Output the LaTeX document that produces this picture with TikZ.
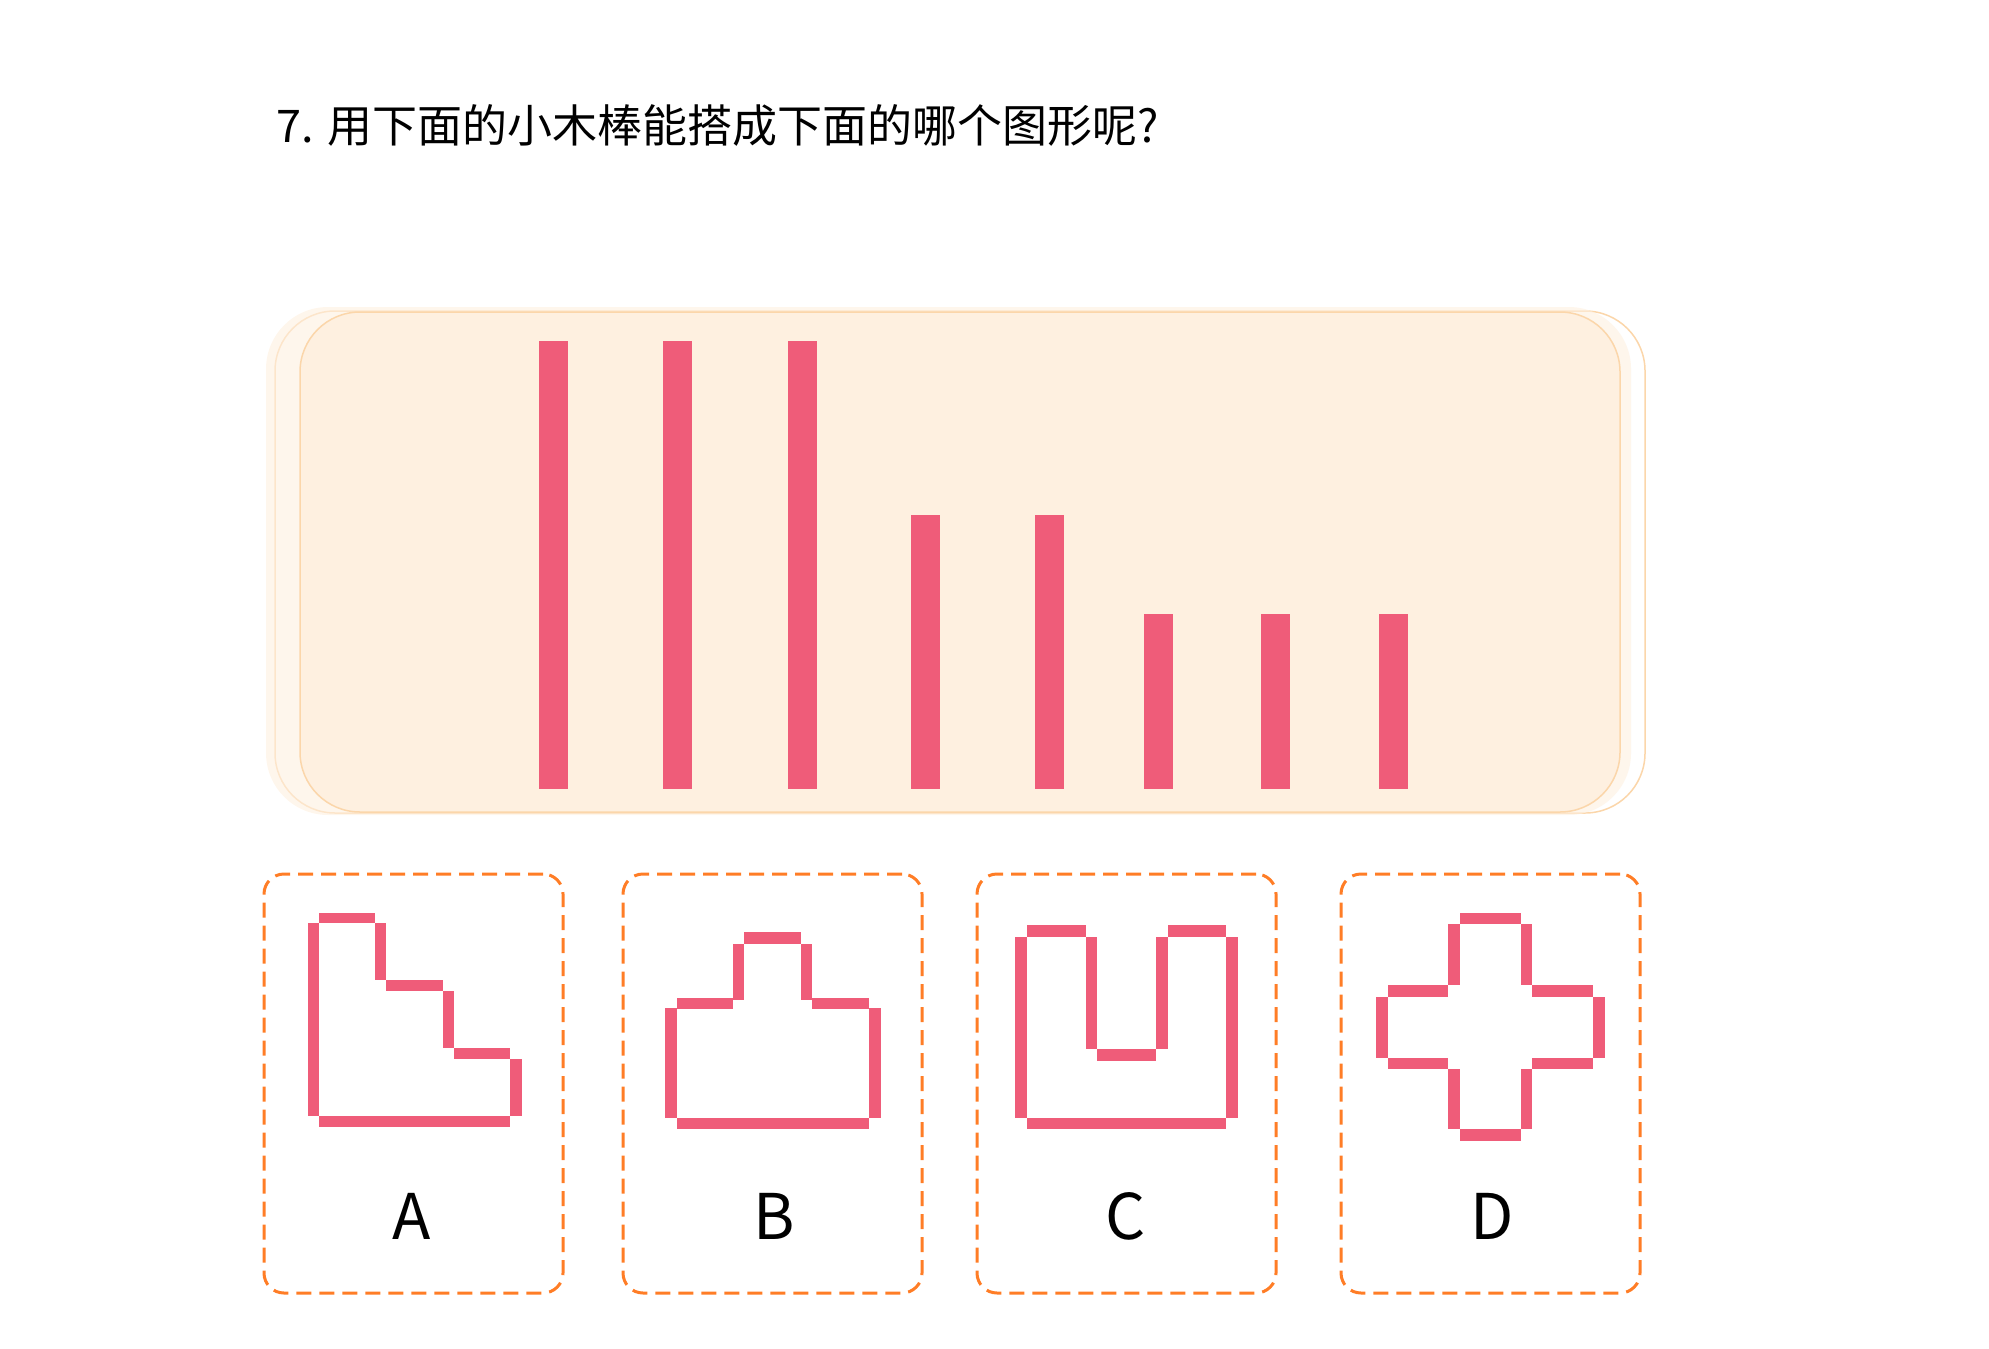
\documentclass[tikz,border=0pt]{standalone}
\usepackage{fontspec}
\newfontfamily\cjk{Noto Sans CJK SC}
\usetikzlibrary{positioning}
\definecolor{stickred}{RGB}{239,92,121}
\definecolor{dashorange}{RGB}{255,125,38}
\definecolor{panelfill}{RGB}{254,240,224}
\definecolor{paneledge}{RGB}{251,214,170}
\tikzset{
  stick/.style  ={fill=stickred, draw=none},
  card/.style   ={rectangle, draw=dashorange, line width=1.5pt,
                  dash pattern=on 7.5pt off 4pt, rounded corners=10pt,
                  minimum width=149.5pt, minimum height=209.5pt, inner sep=0pt},
  optlbl/.style ={font=\cjk\fontsize{31.5pt}{36pt}\selectfont, anchor=base, inner sep=0pt},
  qtitle/.style ={font=\cjk\fontsize{22.5pt}{27pt}\selectfont, anchor=base west, inner sep=0pt},
  panel/.style  ={draw=paneledge, line width=0.75pt, rounded corners=30pt},
}

\begin{document}
\begin{tikzpicture}[x=0.5pt, y=-0.5pt]
\useasboundingbox (0,0) rectangle (1989,1348);

\node[qtitle] (ttl) at (276,143) {7. 用下面的小木棒能搭成下面的哪个图形呢?};

% stacked panel
\draw[panel, fill=white] (275,311) rectangle (1645,813);
\fill[panelfill, opacity=0.6, rounded corners=31pt] (266,307) rectangle (1631,815);
\draw[panel, fill=panelfill] (300,312) rectangle (1620,812);

% sticks
\foreach \x/\top in {539/341, 663/341, 788/341, 911/515, 1035/515,
                     1144/614, 1261/614, 1379/614}
  \fill[stick] (\x,\top) rectangle (\x+29,789);

% option cards
\node[card] (cardA) at (413.5,1083.5) {};
\node[card] (cardB) at (772.5,1083.5) {};
\node[card] (cardC) at (1126.5,1083.5) {};
\node[card] (cardD) at (1490.5,1083.5) {};

\node[optlbl] (labA) at (412,1239) {A};
\node[optlbl] (labB) at (774,1239) {B};
\node[optlbl] (labC) at (1126,1239) {C};
\node[optlbl] (labD) at (1492,1239) {D};

% shape A
\foreach \a/\b/\c/\d in {319/913/375/923, 308/923/319/1116, 375/923/386/980,
                         386/980/443/991, 443/991/454/1048, 454/1048/510/1059,
                         510/1059/522/1116, 319/1116/510/1127}
  \fill[stick] (\a,\b) rectangle (\c,\d);

% shape B
\foreach \a/\b/\c/\d in {744/932/801/944, 733/944/744/1000, 801/944/812/1000,
                         677/998/733/1009, 812/998/869/1009, 665/1008/677/1118,
                         869/1008/881/1118, 677/1118/869/1129}
  \fill[stick] (\a,\b) rectangle (\c,\d);

% shape C
\foreach \a/\b/\c/\d in {1027/925/1086/937, 1168/925/1226/937, 1015/937/1027/1118,
                         1086/937/1097/1049, 1156/937/1168/1049, 1097/1049/1156/1061,
                         1226/937/1238/1118, 1027/1118/1226/1129}
  \fill[stick] (\a,\b) rectangle (\c,\d);

% shape D
\foreach \a/\b/\c/\d in {1460/913/1521/924, 1448/924/1460/985, 1521/924/1532/985,
                         1388/985/1448/997, 1532/985/1593/997, 1376/997/1388/1058,
                         1593/997/1605/1058, 1388/1058/1448/1069, 1532/1058/1593/1069,
                         1448/1069/1460/1129, 1521/1069/1532/1129, 1460/1129/1521/1141}
  \fill[stick] (\a,\b) rectangle (\c,\d);

\end{tikzpicture}
\end{document}
